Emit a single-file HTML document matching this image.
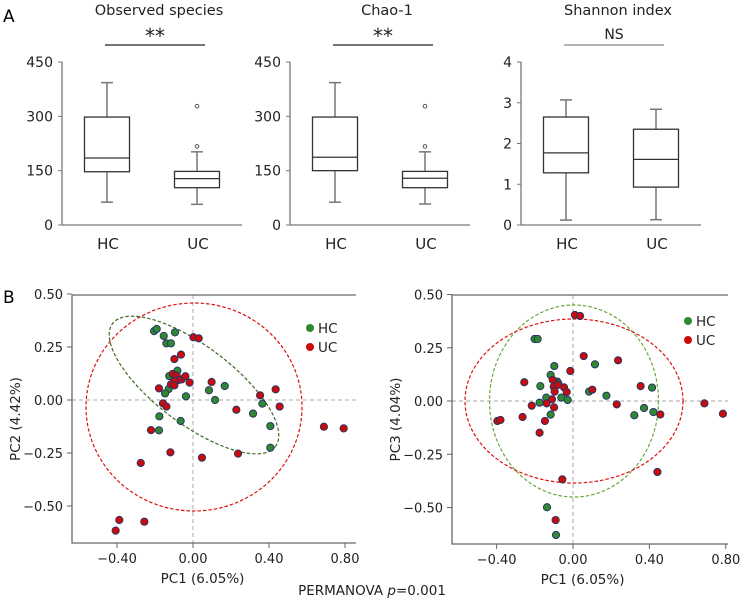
<!DOCTYPE html>
<html><head><meta charset="utf-8"><style>
body{margin:0;background:#fff}
svg{display:block;font-family:"DejaVu Sans","Liberation Sans",sans-serif}
</style></head><body>
<svg id="fig" width="743" height="601" viewBox="0 0 743 601" xmlns="http://www.w3.org/2000/svg">
<text x="3" y="22" font-size="17">A</text>
<text x="3" y="303" font-size="17">B</text>
<g id="boxes"></g>
<g id="scat"></g>
<text x="372" y="595" font-size="13.5" text-anchor="middle" fill="#222">PERMANOVA <tspan font-style="italic">p</tspan>=0.001</text>
</svg>
<script>
// Box plot data
const groups = ['HC','UC'];
const obsStats = [[63,147,185,298,393],[57,103,128,148,202]];
const obsOutliers = [[],[217,328]];
const chaoStats = [[63,150,187,298,393],[58,103,129,148,202]];
const chaoOutliers = [[],[217,328]];
const shanStats = [[0.12,1.28,1.77,2.65,3.07],[0.13,0.93,1.61,2.35,2.84]];
const shanOutliers = [[],[]];
const countTicks = [0,150,300,450];
const shanTicks = [0,1,2,3,4];

// PCoA data [x,y]
const hc12 = [[-0.205,0.325],[-0.191,0.335],[-0.154,0.302],[-0.095,0.319],[-0.140,0.267],[-0.116,0.267],[-0.125,0.113],[-0.082,0.138],[-0.128,0.052],[-0.147,0.031],[-0.037,0.017],[0.084,0.046],[0.167,0.066],[0.116,0.0],[-0.177,-0.077],[-0.065,-0.099],[-0.179,-0.143],[0.365,-0.017],[0.316,-0.064],[0.407,-0.123],[0.407,-0.225]];
const uc12 = [[0.002,0.296],[0.030,0.291],[-0.063,0.214],[-0.098,0.193],[-0.107,0.123],[-0.086,0.115],[-0.060,0.097],[-0.040,0.112],[-0.077,0.094],[-0.098,0.090],[-0.116,0.074],[-0.098,0.069],[-0.018,0.082],[-0.179,0.055],[0.098,0.085],[-0.158,-0.016],[-0.140,-0.031],[-0.221,-0.142],[0.353,0.022],[0.435,0.050],[0.456,-0.031],[0.228,-0.046],[-0.119,-0.247],[0.047,-0.272],[0.237,-0.253],[-0.275,-0.297],[0.689,-0.126],[0.793,-0.134],[-0.388,-0.566],[-0.256,-0.574],[-0.407,-0.616]];
const hc13 = [[-0.201,0.291],[-0.185,0.291],[-0.098,0.164],[-0.117,0.122],[-0.171,0.070],[-0.082,0.091],[-0.077,0.083],[0.115,0.172],[0.084,0.044],[0.175,0.025],[-0.140,0.016],[-0.175,-0.008],[-0.117,-0.064],[-0.061,0.016],[-0.028,0.005],[0.321,-0.067],[0.372,-0.033],[0.421,-0.052],[0.414,0.063],[-0.136,-0.499],[-0.089,-0.629]];
const uc13 = [[0.010,0.404],[0.037,0.399],[0.056,0.211],[0.236,0.191],[-0.014,0.141],[-0.255,0.088],[-0.106,0.099],[-0.101,0.067],[-0.079,0.075],[-0.047,0.064],[-0.033,0.042],[-0.096,0.044],[-0.110,0.008],[-0.099,-0.030],[-0.138,-0.011],[-0.216,-0.022],[-0.264,-0.075],[-0.147,-0.094],[-0.175,-0.149],[-0.396,-0.094],[-0.380,-0.089],[0.101,0.053],[0.229,-0.016],[0.354,0.070],[0.457,-0.063],[0.688,-0.011],[0.785,-0.060],[0.442,-0.333],[-0.056,-0.368],[-0.091,-0.559]];
const xTicks = [-0.40,0.00,0.40,0.80];
const yTicks = [0.50,0.25,0.00,-0.25,-0.50];

const NS='http://www.w3.org/2000/svg';
function mk(parent,tag,attrs,text){const e=document.createElementNS(NS,tag);for(const k in attrs)e.setAttribute(k,attrs[k]);if(text!==undefined)e.textContent=text;parent.appendChild(e);return e;}

const B=document.getElementById('boxes');
function boxPanel(ax, title, sig, sigGrey, stats, outl, ticks, ymax, key){
  const top=62, bot=225, right=ax+180;
  const y=v=>bot-(v/ymax)*(bot-top);
  const g=mk(B,'g',{});
  
  
  const t=mk(g,'text',{x:ax+97,y:15,'font-size':14.5,'text-anchor':'middle',fill:'#222'},title);
  
  
  const s=mk(g,'text',{x:ax+93,y:sig==='NS'?39:43,'font-size':sig==='NS'?14:20,'text-anchor':'middle',fill:'#222'},sig);
  
  
  const sl=mk(g,'line',{x1:ax+43,x2:ax+143,y1:45,y2:45,stroke:sigGrey?'#888':'#222','stroke-width':1.3});
  
  
  const yl=mk(g,'line',{x1:ax,x2:ax,y1:top,y2:bot,stroke:'#777','stroke-width':1.3});
  
  
  const xl=mk(g,'line',{x1:ax,x2:right,y1:bot,y2:bot,stroke:'#777','stroke-width':1.3});
  
  
  ticks.forEach(v=>{
    mk(g,'line',{x1:ax-4,x2:ax,y1:y(v),y2:y(v),stroke:'#777'});
    const tl=mk(g,'text',{x:ax-9,y:y(v)+5,'font-size':14,'text-anchor':'end',fill:'#222'},String(v));
    
    
  });
  stats.forEach((st,i)=>{
    const cx=ax+45+i*90, hw=22.5;
    const bg=mk(g,'g',{});
    
    
    mk(bg,'line',{x1:cx,x2:cx,y1:y(st[0]),y2:y(st[1]),stroke:'#777','stroke-width':1.5});
    mk(bg,'line',{x1:cx,x2:cx,y1:y(st[3]),y2:y(st[4]),stroke:'#777','stroke-width':1.5});
    mk(bg,'line',{x1:cx-6,x2:cx+6,y1:y(st[0]),y2:y(st[0]),stroke:'#777','stroke-width':1.5});
    mk(bg,'line',{x1:cx-6,x2:cx+6,y1:y(st[4]),y2:y(st[4]),stroke:'#777','stroke-width':1.5});
    mk(bg,'rect',{x:cx-hw,y:y(st[3]),width:hw*2,height:y(st[1])-y(st[3]),fill:'#fff',stroke:'#333','stroke-width':1.3});
    mk(bg,'line',{x1:cx-hw,x2:cx+hw,y1:y(st[2]),y2:y(st[2]),stroke:'#333','stroke-width':1.3});
    outl[i].forEach(o=>{
      const c=mk(bg,'circle',{cx:cx,cy:y(o),r:1.8,fill:'#fff',stroke:'#555','stroke-width':1});
      
      
    });
    const gl=mk(g,'text',{x:cx+1,y:249,'font-size':15,'text-anchor':'middle',fill:'#222'},groups[i]);
    
    
  });
}
boxPanel(62,'Observed species','**',false,obsStats,obsOutliers,countTicks,450,'observed-species');
boxPanel(290,'Chao-1','**',false,chaoStats,chaoOutliers,countTicks,450,'chao1');
boxPanel(521,'Shannon index','NS',true,shanStats,shanOutliers,shanTicks,4,'shannon');

const S=document.getElementById('scat');
function scatter(fr, x0, y0, sx, sy, hc, uc, ylab, key, ells, leg){
  const X=v=>x0+v*sx, Y=v=>y0-v*sy;
  const g=mk(S,'g',{});
  
  
  mk(g,'line',{x1:fr[0],x2:fr[2],y1:Y(0),y2:Y(0),stroke:'#aaa','stroke-dasharray':'4,3'});
  mk(g,'line',{x1:X(0),x2:X(0),y1:fr[1],y2:fr[3],stroke:'#aaa','stroke-dasharray':'4,3'});
  const fb=mk(g,'path',{d:`M${fr[0]},${fr[1]}H${fr[2]}M${fr[0]},${fr[1]}V${fr[3]}H${fr[2]}`,fill:'none',stroke:'#666','stroke-width':1.3});
  
  
  xTicks.forEach(v=>{
    mk(g,'line',{x1:X(v),x2:X(v),y1:fr[3],y2:fr[3]+5,stroke:'#666'});
    const t=mk(g,'text',{x:X(v),y:fr[3]+20,'font-size':13,'text-anchor':'middle',fill:'#222'},v.toFixed(2).replace('-','\u2212'));
    
    
  });
  yTicks.forEach(v=>{
    mk(g,'line',{x1:fr[0]-5,x2:fr[0],y1:Y(v),y2:Y(v),stroke:'#666'});
    const t=mk(g,'text',{x:fr[0]-9,y:Y(v)+5,'font-size':13,'text-anchor':'end',fill:'#222'},v.toFixed(2).replace('-','\u2212'));
    
    
  });
  ells.forEach(e=>{
    const el=mk(g,'ellipse',{cx:e[0],cy:e[1],rx:e[2],ry:e[3],transform:`rotate(${e[4]} ${e[0]} ${e[1]})`,fill:'none',stroke:e[5],'stroke-width':1.2,'stroke-dasharray':'3.5,2'});
    
    
  });
  [[hc,'#2f8a2f','hc'],[uc,'#cc0a0a','uc']].forEach(([pts,col,n])=>{
    pts.forEach(p=>{
      const c=mk(g,'circle',{cx:X(p[0]),cy:Y(p[1]),r:3.6,fill:col,stroke:'#2a3566','stroke-width':1});
      
      
    });
  });
  [['HC','#2f8a2f',0],['UC','#cc0a0a',19]].forEach(([lb,col,dy])=>{
    const lg=mk(g,'g',{});
    
    
    mk(lg,'circle',{cx:leg[0],cy:leg[1]+dy,r:4,fill:col});
    mk(lg,'text',{x:leg[0]+8,y:leg[1]+dy+5,'font-size':13.5,fill:'#222'},lb);
  });
  const xl=mk(g,'text',{x:X(0.05),y:fr[3]+40,'font-size':13.5,'text-anchor':'middle',fill:'#222'},'PC1 (6.05%)');
  
  
  const cy=(fr[1]+fr[3])/2;
  const yl=mk(g,'text',{x:fr[0]-52,y:cy,'font-size':13.5,'text-anchor':'middle',fill:'#222',transform:`rotate(-90 ${fr[0]-52} ${cy})`},ylab);
  
  
}
scatter([72,295,356,543],193,400,190,212,hc12,uc12,'PC2 (4.42%)','pc1-pc2',
  [[194,385,102,39,37,'#3d6b25','hc'],[194,407,108,104,0,'#dd1111','uc']],[310,328]);
scatter([452,295,728,544],573,401,191,213,hc13,uc13,'PC3 (4.04%)','pc1-pc3',
  [[574,401,84.5,96,0,'#6aa83a','hc'],[574,401,109,82,0,'#dd1111','uc']],[688,321]);
</script>
</body></html>
